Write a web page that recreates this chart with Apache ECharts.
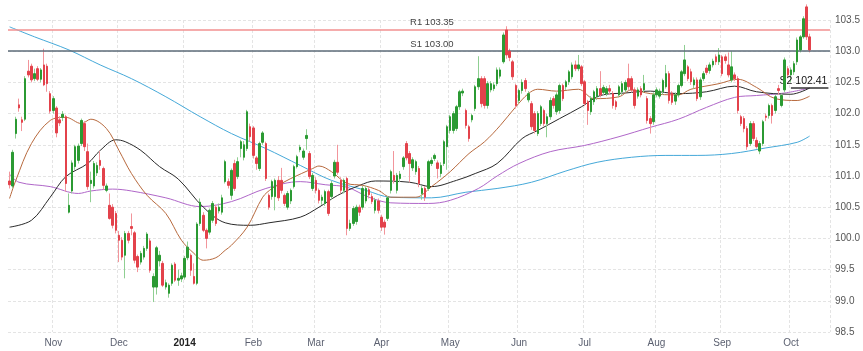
<!DOCTYPE html>
<html>
<head>
<meta charset="utf-8">
<script src="https://cdn.jsdelivr.net/npm/echarts@6/dist/echarts.min.js"></script>
<style>
  html, body { margin: 0; padding: 0; background: #fff; }
  #chart { width: 863px; height: 351px; }
</style>
</head>
<body>
<div id="chart"></div>
<script>
// daily candles, [open, close, low, high], 14 Oct 2013 .. 9 Oct 2014
const ohlc = [
  // Oct 2013
  [100.92,100.86,100.80,101.07],[100.84,101.38,100.80,101.42],[101.68,101.91,101.60,101.95],[102.14,102.09,102.03,102.24],
  [101.90,101.86,101.72,101.95],[101.91,102.56,101.88,102.60],[102.68,102.62,102.58,102.86],[102.76,102.54,102.50,102.80],
  [102.56,102.64,102.52,102.72],[102.72,102.55,102.52,102.76],[102.55,102.70,102.50,102.73],[102.78,102.46,102.44,103.04],
  [102.76,102.48,102.35,102.80],[102.32,102.04,102.00,102.36],
  // Nov
  [102.05,102.24,102.00,102.28],[102.09,101.69,101.62,102.12],[101.90,101.85,101.80,101.96],[101.94,101.99,101.88,102.04],
  [101.95,100.88,100.75,101.98],[100.42,100.53,100.40,100.72],[100.76,101.21,100.72,101.25],[101.15,101.47,101.10,101.50],
  [101.25,101.48,101.20,101.52],[101.52,101.89,101.48,101.92],[101.84,101.47,101.40,101.88],[101.39,100.83,100.78,101.52],
  [100.88,100.93,100.58,101.07],[100.84,101.20,100.80,101.24],[101.05,101.17,101.00,101.22],[101.25,101.17,101.10,101.40],
  [101.12,100.85,100.78,101.15],[100.77,100.84,100.74,100.88],[100.53,100.32,100.30,100.72],[100.50,100.21,100.16,100.55],
  [100.40,100.13,100.08,100.44],
  // Dec
  [100.05,99.97,99.62,100.12],[99.97,99.70,99.65,100.02],[99.73,100.08,99.36,100.12],[100.08,99.97,99.92,100.12],
  [100.19,100.16,100.05,100.40],[100.09,99.65,99.60,100.12],[99.71,99.54,99.46,99.74],[99.62,99.76,99.58,99.80],
  [99.70,99.84,99.66,99.88],[99.84,100.07,99.80,100.10],[99.96,99.49,99.45,100.00],[99.22,99.39,98.98,99.44],
  [99.22,99.85,99.10,99.88],[99.64,99.73,99.55,99.80],[99.60,99.25,99.22,99.64],[99.22,99.29,99.18,99.34],
  [99.12,99.25,99.05,99.28],[99.28,99.57,99.24,99.60],[99.59,99.33,99.30,99.62],[99.33,99.36,99.24,99.50],
  [99.35,99.40,99.30,99.45],
  // Jan 2014
  [99.38,99.68,99.34,99.72],[99.69,99.86,99.65,99.95],[99.73,99.49,99.40,99.76],[99.39,99.28,99.26,99.60],
  [99.28,100.23,99.25,100.26],[100.24,100.58,100.20,100.64],[100.37,100.13,100.10,100.42],[100.13,100.00,99.84,100.16],
  [100.10,100.45,100.06,100.48],[100.29,100.56,100.25,100.60],[100.50,100.24,100.20,100.54],[100.44,100.50,100.40,100.56],
  [100.42,100.65,100.38,100.70],[100.91,101.23,100.88,101.26],[100.91,100.85,100.80,100.96],[100.69,101.09,100.62,101.12],
  [101.20,100.80,100.76,101.26],[100.99,101.23,100.95,101.30],[101.44,101.55,101.30,101.58],[101.30,101.50,101.25,101.56],
  [101.44,102.03,101.40,102.06],[101.79,101.63,101.55,101.84],
  // Feb
  [101.77,101.33,101.28,101.80],[101.29,101.20,101.10,101.32],[101.12,101.52,101.08,101.55],[101.54,101.69,101.50,101.72],
  [101.52,100.96,100.92,101.55],[100.69,100.50,100.46,100.72],[100.67,100.91,100.62,100.94],[100.67,100.93,100.45,100.96],
  [100.93,100.65,100.60,101.00],[100.93,100.77,100.72,101.13],[100.69,100.56,100.52,100.72],[100.50,100.72,100.46,100.76],
  [100.60,100.77,100.55,100.80],[100.83,101.15,100.80,101.18],[101.15,101.31,101.12,101.34],[101.42,101.46,101.38,101.50],
  [101.30,101.40,101.26,101.44],[101.60,101.65,101.42,101.75],[101.36,100.99,100.95,101.40],[100.80,101.01,100.76,101.05],
  // Mar
  [100.93,100.77,100.72,100.98],[100.77,100.61,100.56,100.80],[100.61,100.66,100.54,100.70],[100.56,100.75,100.52,100.78],
  [100.75,100.40,100.36,100.78],[100.67,100.88,100.62,100.92],[101.00,101.22,100.96,101.26],[101.22,101.06,101.02,101.50],
  [100.93,100.77,100.72,100.98],[100.77,100.93,100.72,100.96],[100.96,100.16,100.05,100.99],[100.16,100.24,100.12,100.30],
  [100.24,100.48,100.20,100.52],[100.27,100.50,100.22,100.54],[100.50,100.42,100.36,100.54],[100.50,100.80,100.46,100.84],
  [100.60,100.80,100.56,100.84],[100.78,100.70,100.64,100.82],[100.67,100.59,100.55,100.72],[100.45,100.61,100.40,100.65],
  [100.60,100.45,100.40,100.64],[100.34,100.18,100.12,100.38],[100.26,100.18,100.06,100.30],
  // Apr
  [100.32,100.65,100.28,100.68],[100.77,101.07,100.72,101.10],[101.01,100.93,100.88,101.40],[100.77,101.01,100.72,101.05],
  [100.96,101.03,100.90,101.08],[101.15,101.29,101.10,101.32],[101.52,101.29,101.25,101.56],[101.36,101.20,100.90,101.40],
  [101.13,101.26,101.08,101.30],[101.07,101.23,101.02,101.26],[101.12,100.88,100.82,101.16],[100.72,100.80,100.62,100.84],
  [100.80,100.66,100.60,100.84],[100.80,101.23,100.76,101.26],[101.20,101.25,101.16,101.30],[101.28,101.33,101.24,101.36],
  [101.21,101.12,100.96,101.25],[101.04,101.17,100.98,101.22],[101.20,101.55,101.16,101.58],[101.47,101.79,101.10,101.82],
  [101.73,101.95,101.68,101.98],[101.73,102.00,101.68,102.04],
  // May
  [101.76,102.11,101.72,102.14],[102.11,102.35,102.06,102.38],[102.33,102.36,102.28,102.40],[102.05,101.81,101.76,102.08],
  [101.79,101.60,101.55,101.82],[101.90,101.97,101.86,102.00],[102.08,102.43,102.04,102.46],[102.43,102.56,102.38,102.92],
  [102.56,102.16,102.10,102.60],[102.56,102.13,102.08,102.60],[102.13,102.48,102.08,102.52],[102.38,102.48,102.34,102.52],
  [102.40,102.46,102.36,102.50],[102.48,102.70,102.44,102.74],[102.60,102.70,102.56,102.74],[102.83,103.26,102.80,103.30],
  [103.34,102.94,102.88,103.40],[103.00,102.90,102.84,103.04],[102.83,102.59,102.54,102.86],[102.45,102.13,102.08,102.48],
  [102.21,102.37,102.16,102.40],[102.37,102.50,102.32,102.55],
  // Jun
  [102.53,102.40,102.35,102.57],[102.22,102.32,102.18,102.36],[102.16,101.79,101.74,102.20],[102.00,101.73,101.68,102.04],
  [101.68,102.00,101.64,102.04],[101.84,102.11,101.80,102.14],[102.05,101.84,101.80,102.08],[101.84,101.95,101.62,102.00],
  [101.95,102.21,101.90,102.26],[102.24,102.13,102.08,102.28],[102.03,102.30,101.98,102.34],[102.05,102.45,102.00,102.48],
  [102.45,102.24,102.20,102.48],[102.43,102.51,102.38,102.54],[102.51,102.67,102.46,102.70],[102.59,102.78,102.55,102.82],
  [102.78,102.72,102.68,102.85],[102.72,102.78,102.68,102.94],[102.75,102.48,102.44,102.78],[102.51,102.16,102.12,102.54],
  [102.19,102.05,101.82,102.22],
  // Jul
  [102.03,102.24,101.98,102.28],[102.19,102.35,102.14,102.38],[102.27,102.40,102.22,102.44],[102.40,102.30,102.26,102.68],
  [102.34,102.42,102.30,102.46],[102.32,102.40,102.28,102.44],[102.40,102.36,102.30,102.46],[102.32,102.13,102.08,102.36],
  [102.19,102.11,102.06,102.22],[102.30,102.43,102.26,102.46],[102.35,102.48,102.30,102.52],[102.38,102.50,102.34,102.54],
  [102.56,102.43,102.38,102.80],[102.56,102.38,102.34,102.60],[102.38,102.13,102.08,102.42],[102.28,102.38,102.24,102.42],
  [102.40,102.30,102.26,102.44],[102.38,102.48,102.34,102.62],[102.24,101.89,101.84,102.28],[101.92,101.84,101.68,101.96],
  [101.87,102.30,101.82,102.34],[102.30,102.38,102.26,102.42],[102.28,102.36,102.24,102.40],[102.35,102.53,102.30,102.56],
  // Aug
  [102.43,102.64,102.40,102.78],[102.64,102.21,102.16,102.68],[102.33,102.18,102.14,102.36],[102.20,102.30,102.14,102.34],
  [102.30,102.45,102.26,102.48],[102.45,102.67,102.42,102.70],[102.64,102.86,102.60,103.10],[102.75,102.56,102.52,102.78],
  [102.67,102.51,102.46,102.72],[102.46,102.54,102.40,102.58],[102.54,102.24,102.20,102.58],[102.27,102.54,102.22,102.58],
  [102.56,102.64,102.52,102.68],[102.73,102.66,102.62,102.78],[102.69,102.78,102.64,102.82],[102.78,102.84,102.74,102.88],
  [102.91,102.83,102.78,102.95],[102.83,102.94,102.78,103.05],[102.91,102.64,102.60,102.94],[102.91,102.85,102.80,102.95],
  [102.78,102.62,102.58,102.98],
  // Sep
  [102.54,102.75,102.50,103.00],[102.62,102.56,102.52,102.66],[102.56,102.05,102.00,102.60],[101.95,101.84,101.80,101.98],
  [101.92,101.76,101.70,101.96],[101.76,101.47,101.42,101.80],[101.52,101.84,101.48,101.88],
  [101.84,101.60,101.56,101.88],[101.57,101.47,101.44,101.62],[101.40,101.52,101.35,101.56],[101.52,101.87,101.48,101.90],
  [101.96,101.94,101.88,102.00],[101.97,102.13,101.92,102.16],[102.13,101.97,101.84,102.16],[102.05,102.27,102.00,102.30],
  [102.40,102.37,102.30,102.46],[102.13,102.29,102.10,102.32],
  [102.38,102.86,102.34,102.90],[102.72,102.62,102.58,102.76],
  // Oct
  [102.62,102.70,102.50,102.74],[102.67,102.80,102.62,102.84],[102.83,103.18,102.78,103.22],[103.02,103.23,102.98,103.26],
  [103.23,103.52,103.20,103.56],[103.71,103.23,103.18,103.75],[103.23,103.02,102.98,103.28]
];

// moving averages at sample bars: [bar index, value]
const ma20 = [[0,100.64],[2,100.93],[7,101.52],[13,101.89],[18,101.94],[23,101.84],[26,101.91],[31,101.76],[35,101.41],
  [39,101.04],[44,100.69],[50,100.40],[55,99.97],[59,99.76],[62,99.65],[66,99.69],[69,99.81],[71,99.89],[76,100.18],
  [81,100.66],[84,100.80],[87,100.88],[90,100.96],[97,101.12],[99,101.16],[103,101.07],[108,100.88],[113,100.85],
  [118,100.77],[122,100.66],[130,100.66],[135,100.83],[141,101.07],[147,101.36],[152,101.55],[157,101.81],[162,102.11],
  [166,102.32],[169,102.39],[175,102.36],[182,102.39],[187,102.24],[195,102.27],[199,102.38],[205,102.32],[214,102.30],
  [218,102.39],[227,102.48],[233,102.55],[239,102.42],[245,102.24],[252,102.21],[256,102.28]];
const ma50 = [[0,100.18],[7,100.29],[13,100.66],[18,100.99],[25,101.20],[29,101.41],[34,101.58],[37,101.55],[42,101.41],
  [48,101.15],[54,100.95],[62,100.50],[69,100.25],[77,100.21],[83,100.25],[93,100.34],[99,100.50],[105,100.69],
  [112,100.85],[117,100.92],[128,100.90],[135,100.83],[143,100.93],[149,101.04],[156,101.20],[164,101.60],[169,101.73],
  [176,101.92],[183,102.11],[189,102.29],[197,102.33],[205,102.36],[214,102.32],[223,102.35],[232,102.44],[239,102.35],
  [250,102.31],[256,102.41]];
const ma100 = [[0,101.03],[3,100.90],[13,100.83],[22,100.72],[26,100.76],[33,100.79],[39,100.76],[50,100.65],[61,100.51],
  [71,100.59],[82,100.80],[93,100.91],[101,100.86],[108,100.82],[115,100.66],[122,100.57],[134,100.56],[141,100.61],
  [150,100.80],[156,101.00],[163,101.20],[173,101.39],[184,101.49],[195,101.63],[205,101.78],[214,101.91],[223,102.10],
  [232,102.26],[239,102.29],[248,102.33],[256,102.41]];
const ma200 = [[0,103.39],[8,103.23],[19,103.02],[29,102.78],[39,102.56],[50,102.27],[61,101.95],[71,101.68],[82,101.44],
  [93,101.17],[103,100.93],[114,100.77],[122,100.66],[135,100.65],[146,100.74],[156,100.80],[167,100.90],[178,101.08],
  [188,101.22],[199,101.30],[210,101.33],[220,101.33],[231,101.36],[242,101.45],[252,101.54],[256,101.64]];

// pivot levels
const R1 = 103.35;
const S1 = 103.00;
const S2 = 102.41;
const s2From = '2014-10-01';

const monthNames = ['Jan', 'Feb', 'Mar', 'Apr', 'May', 'Jun', 'Jul', 'Aug', 'Sep', 'Oct', 'Nov', 'Dec'];
const holidays = ['2013-12-25', '2014-01-01'];
const padBars = 6;

// trading days (weekdays) for the category axis
const dates = [];
let t = Date.UTC(2013, 9, 14);
while (dates.length < ohlc.length + padBars) {
  const d = new Date(t);
  const s = d.toISOString().slice(0, 10);
  const wd = d.getUTCDay();
  if (wd !== 0 && wd !== 6 && holidays.indexOf(s) < 0) dates.push(s);
  t += 86400000;
}
const isMonthStart = (i) => i > 0 && dates[i].slice(5, 7) !== dates[i - 1].slice(5, 7);

const UP = '#2b9a33', DOWN = '#e3424b';
const bodies = ohlc.map(r => [r[0], r[1], Math.min(r[0], r[1]), Math.max(r[0], r[1])]);

const maLine = (name, data, color) => ({
  name, type: 'line', data, smooth: 0.35, showSymbol: false, silent: true,
  lineStyle: { color, width: 1 }, z: 3
});

const chart = echarts.init(document.getElementById('chart'), null, { renderer: 'canvas' });
chart.setOption({
  animation: false,
  backgroundColor: '#fff',
  textStyle: { fontFamily: 'Liberation Sans, Arial, sans-serif' },
  grid: { left: 8, right: 31, top: 20, bottom: 19 },
  xAxis: {
    type: 'category',
    data: dates,
    boundaryGap: true,
    axisLine: { show: false },
    axisTick: { show: false, interval: isMonthStart },
    axisLabel: {
      interval: isMonthStart,
      margin: 6,
      fontSize: 10,
      color: '#5b6070',
      formatter: (v) => {
        const m = +v.slice(5, 7);
        return m === 1 ? '{y|' + v.slice(0, 4) + '}' : monthNames[m - 1];
      },
      rich: { y: { fontWeight: 'bold', color: '#222', fontSize: 10 } }
    },
    splitLine: { show: true, interval: isMonthStart, lineStyle: { color: '#e4e4e4', type: [3, 2] } }
  },
  yAxis: {
    type: 'value',
    position: 'right',
    min: 98.5, max: 103.5, interval: 0.5,
    axisLine: { show: false },
    axisTick: { show: false },
    axisLabel: { margin: 5, fontSize: 10, color: '#555', formatter: v => v.toFixed(1) },
    splitLine: { lineStyle: { color: '#e4e4e4', type: [3, 2] } }
  },
  series: [
    maLine('MA200', ma200, '#45a9d9'),
    maLine('MA100', ma100, '#b067c9'),
    maLine('MA50', ma50, '#2a2a2a'),
    maLine('MA20', ma20, '#b86a3e'),
    {
      name: 'wicks', type: 'candlestick', data: ohlc, clip: false, barWidth: 1, silent: true, z: 4,
      itemStyle: { color: '#8fcf92', color0: '#f2959b', borderColor: '#8fcf92', borderColor0: '#f2959b', borderWidth: 1 },
      markLine: {
        symbol: 'none', silent: true, animation: false,
        data: [
          { yAxis: R1, lineStyle: { color: '#f29191', width: 1.5, type: 'solid' },
            label: { formatter: 'R1 ' + R1.toFixed(2), position: 'insideMiddleTop', distance: 2, fontSize: 9.5, color: '#444', padding: [0, 0, 0, 26] } },
          { yAxis: S1, lineStyle: { color: '#5d6b79', width: 1.5, type: 'solid' },
            label: { formatter: 'S1 ' + S1.toFixed(2), position: 'insideMiddleTop', distance: 2, fontSize: 9.5, color: '#444', padding: [0, 0, 0, 26] } },
          [
            { xAxis: s2From, yAxis: S2, lineStyle: { color: '#333', width: 1.5, type: 'solid' },
              label: { formatter: 'S2 ' + S2.toFixed(2), position: 'insideEndTop', distance: 1, fontSize: 10.5, color: '#111' } },
            { xAxis: dates[dates.length - 1], yAxis: S2 }
          ]
        ]
      }
    },
    {
      name: 'bodies', type: 'candlestick', data: bodies, clip: false, barWidth: 2, silent: true, z: 5,
      itemStyle: { color: UP, color0: DOWN, borderColor: UP, borderColor0: DOWN, borderWidth: 1 }
    }
  ]
});
</script>
</body>
</html>
